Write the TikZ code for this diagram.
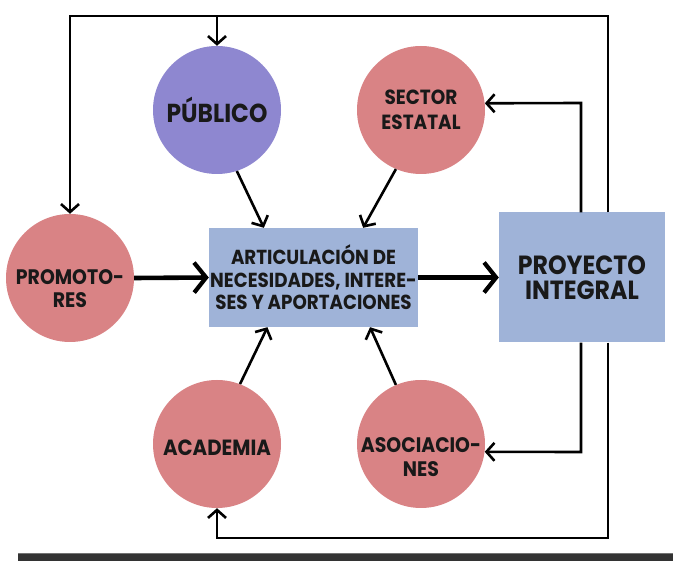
\documentclass[tikz,border=0pt]{standalone}
\usepackage{fontspec}
\setmainfont{Poppins}[FakeStretch=0.9]
\usetikzlibrary{arrows.meta,calc}
\definecolor{pubfill}{RGB}{142,135,208}
\definecolor{rosefill}{RGB}{217,131,133}
\definecolor{boxfill}{RGB}{159,179,216}
\definecolor{barfill}{RGB}{51,51,51}
\begin{document}
\begin{tikzpicture}[x=1pt,y=-1pt,
  bubble/.style={circle,minimum size=128pt,inner sep=0pt,fill=rosefill},
  pubbubble/.style={bubble,fill=pubfill},
  panel/.style={rectangle,inner sep=0pt,fill=boxfill},
  lbl/.style={align=center,font=\bfseries\fontsize{21}{24}\selectfont,text=black!90},
  thinarrow/.style={line width=2.6pt,-{Straight Barb[length=8pt,width=18pt,line width=2.6pt]}},
  thickarrow/.style={line width=4.6pt,-{Straight Barb[length=12pt,width=30pt,line width=4.2pt]}}]
\useasboundingbox (0,0) rectangle (673,561);

% participants
\node[pubbubble] (pub) at (217,110) {};
\node[bubble] (sec) at (421,110) {};
\node[bubble] (pro) at (70,278) {};
\node[bubble] (aca) at (217,444) {};
\node[bubble] (aso) at (421,444) {};

% central boxes
\node[panel,minimum width=209pt,minimum height=99pt] (art) at (313.5,277.5) {};
\node[panel,minimum width=166pt,minimum height=130pt] (proy) at (582,277.5) {};

% labels
\node[lbl,font=\bfseries\fontsize{26}{25}\selectfont] (pubt) at (pub) {PÚBLICO};
\node[lbl,font=\bfseries\fontsize{20.5}{25}\selectfont] (sect) at (421,110) {SECTOR\\ESTATAL};
\node[lbl,font=\bfseries\fontsize{21}{23}\selectfont] (prot) at (70,289) {PROMOTO-\\RES};
\node[lbl,font=\bfseries\fontsize{22}{24}\selectfont] (acat) at (217,448) {ACADEMIA};
\node[lbl,font=\bfseries\fontsize{21}{24}\selectfont] (asot) at (421,457) {ASOCIACIO-\\NES};
\node[lbl,font=\bfseries\fontsize{20.3}{22.5}\selectfont] (artt) at (art) {ARTICULACIÓN DE\\NECESIDADES, INTERE-\\SES Y APORTACIONES};
\node[lbl,font=\bfseries\fontsize{26.3}{25}\selectfont] (proyt) at (proy) {PROYECTO\\INTEGRAL};

% frame coordinates
\coordinate (tl) at (70,16);
\coordinate (tr) at (608,16);
\coordinate (br) at (608,538);
\coordinate (bl) at (217,538);
\coordinate (ir) at (581,103);
\coordinate (jr) at (581,452);

% feedback loops from the project
\draw[thinarrow,line join=miter] (proy.north -| tr) -- (tr) -- (tl) -- (pro.north);
\draw[thinarrow] (pub.north |- tl) -- (pub.north);
\draw[thinarrow,line join=miter] (proy.south -| br) -- (br) -- (bl) -- (aca.south);
\draw[thinarrow,line join=miter] (proy.north -| ir) -- (ir) -- (sec.6);
\draw[thinarrow,line join=miter] (proy.south -| jr) -- (jr) -- (aso.-7);

% contributions into the articulation box
\draw[thinarrow] (pub.-72) -- ($(art.north west)!0.263!(art.north east)$);
\draw[thinarrow] (sec.-113) -- ($(art.north west)!0.737!(art.north east)$);
\draw[thinarrow] (aca.69) -- ($(art.south west)!0.28!(art.south east)$);
\draw[thinarrow] (aso.113) -- ($(art.south west)!0.77!(art.south east)$);

% main flow
\draw[thickarrow] (pro.east) -- (art.west);
\draw[thickarrow] (art.east) -- (proy.west);

% bottom bar
\fill[barfill] (18,553) rectangle (673,561);
\draw[black!55,line width=0.8pt] (18,553) -- (673,553);
\end{tikzpicture}
\end{document}
